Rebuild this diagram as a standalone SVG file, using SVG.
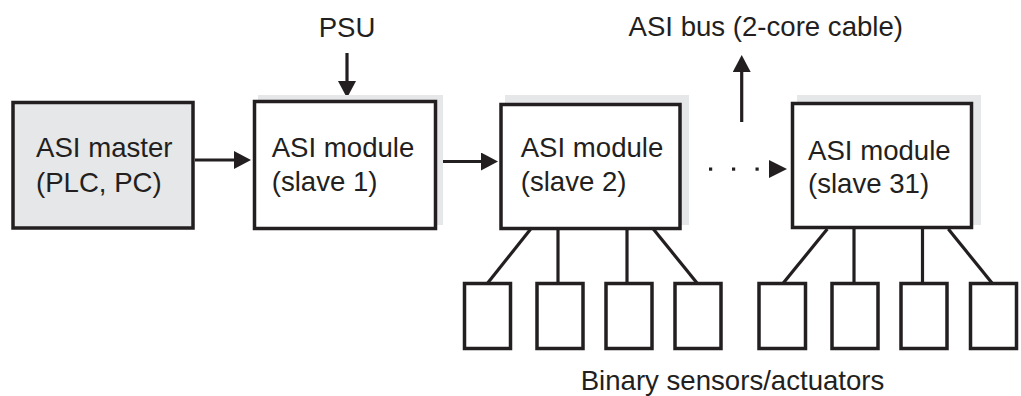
<svg xmlns="http://www.w3.org/2000/svg" width="1021" height="396" viewBox="0 0 1021 396">
<defs>
<style>
.box{fill:#fff;stroke:#231f20;stroke-width:3.5}
.master{fill:#e6e7e8;stroke:#231f20;stroke-width:3.5}
.shadow{fill:#e6e7e8;stroke:none}
.sensor{fill:#fff;stroke:#231f20;stroke-width:3.5}
.wire{stroke:#231f20;stroke-width:3.2;fill:none}
.t{font-family:"Liberation Sans",Arial,Helvetica,sans-serif;font-size:27.6px;fill:#231f20}
.dot{fill:#231f20}
</style>
<marker id="ah" viewBox="0 0 17 18" markerWidth="17" markerHeight="18" refX="1" refY="9" orient="auto" markerUnits="userSpaceOnUse">
<path d="M0,0 L17,9 L0,18 z" fill="#231f20"/>
</marker>
</defs>
<rect width="1021" height="396" fill="#fff"/>

<g id="connectors">
<line class="wire" x1="195" y1="160" x2="235" y2="160" marker-end="url(#ah)"/>
<line class="wire" x1="347" y1="53" x2="347" y2="82" marker-end="url(#ah)"/>
<line class="wire" x1="437" y1="161.5" x2="482" y2="161.5" marker-end="url(#ah)"/>
<line class="wire" x1="741.7" y1="122" x2="741.7" y2="71" marker-end="url(#ah)"/>
<g id="dotted">
<rect class="dot" x="685.5" y="167.5" width="3.2" height="3.2"/>
<rect class="dot" x="709" y="167.5" width="3.2" height="3.2"/>
<rect class="dot" x="732" y="167.5" width="3.2" height="3.2"/>
<rect class="dot" x="755.5" y="167.5" width="3.2" height="3.2"/>
<path d="M769,160 L787,169 L769,178 z" fill="#231f20"/>
</g>
<line class="wire" x1="530.7" y1="229" x2="487.7" y2="283"/>
<line class="wire" x1="558" y1="229" x2="558" y2="283"/>
<line class="wire" x1="627" y1="229" x2="627" y2="283"/>
<line class="wire" x1="653.3" y1="229" x2="697" y2="283"/>
<line class="wire" x1="827.3" y1="229" x2="783.3" y2="283"/>
<line class="wire" x1="854" y1="229" x2="854" y2="283"/>
<line class="wire" x1="922.5" y1="229" x2="922.5" y2="283"/>
<line class="wire" x1="948.3" y1="229" x2="992" y2="283"/>
</g>

<g id="psu-label">
<text class="t" x="347" y="36.5" text-anchor="middle">PSU</text>
</g>
<g id="bus-label">
<text class="t" x="628.5" y="35.5">ASI bus (2-core cable)</text>
</g>

<g id="master">
<rect class="master" x="13" y="102.5" width="180" height="125.5"/>
<text class="t" x="36" y="157">ASI master</text>
<text class="t" x="36" y="191.5">(PLC, PC)</text>
</g>

<g id="slave1">
<rect class="shadow" x="258" y="95" width="185" height="130"/>
<rect class="box" x="254.5" y="101.5" width="181" height="127"/>
<text class="t" x="271.7" y="156.7">ASI module</text>
<text class="t" x="271.7" y="191">(slave 1)</text>
</g>

<g id="slave2">
<rect class="shadow" x="505" y="95" width="184" height="130"/>
<rect class="box" x="501" y="104.5" width="179" height="124"/>
<text class="t" x="520.7" y="157.3">ASI module</text>
<text class="t" x="520.7" y="190.7">(slave 2)</text>
</g>

<g id="slave31">
<rect class="shadow" x="797" y="95" width="184" height="130"/>
<rect class="box" x="792.5" y="103.5" width="179" height="124"/>
<text class="t" x="808" y="160">ASI module</text>
<text class="t" x="808" y="193.3">(slave 31)</text>
</g>

<g id="sensors-slave2">
<rect class="sensor" x="464.5" y="283.5" width="46" height="65"/>
<rect class="sensor" x="537" y="283.5" width="46" height="65"/>
<rect class="sensor" x="606" y="283.5" width="46" height="65"/>
<rect class="sensor" x="675" y="283.5" width="46" height="65"/>
</g>

<g id="sensors-slave31">
<rect class="sensor" x="759" y="283.5" width="46.5" height="65"/>
<rect class="sensor" x="832" y="283.5" width="46" height="65"/>
<rect class="sensor" x="901" y="283.5" width="46" height="65"/>
<rect class="sensor" x="970.5" y="283.5" width="46" height="65"/>
</g>

<g id="sensors-label">
<text class="t" x="580.7" y="389.5">Binary sensors/actuators</text>
</g>
</svg>
